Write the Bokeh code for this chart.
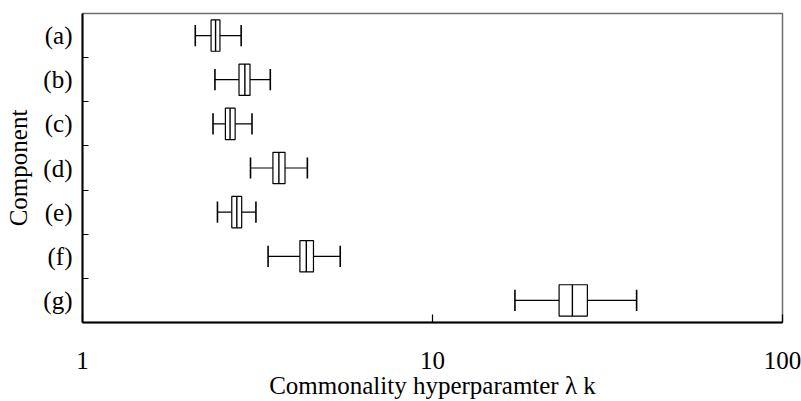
from bokeh.plotting import figure
from bokeh.models import Range1d, FixedTicker, ColumnDataSource
from bokeh.embed import file_html
from bokeh.resources import INLINE

# data
categories = ["(a)", "(b)", "(c)", "(d)", "(e)", "(f)", "(g)"]
lower = [2.10, 2.39, 2.36, 3.02, 2.43, 3.39, 17.2]
q1 = [2.33, 2.80, 2.56, 3.50, 2.67, 4.18, 23.0]
median = [2.40, 2.91, 2.64, 3.64, 2.76, 4.36, 25.1]
q3 = [2.47, 3.01, 2.73, 3.79, 2.85, 4.57, 27.7]
upper = [2.84, 3.44, 3.05, 4.39, 3.13, 5.45, 38.3]
x_ticks = [1, 10, 100]
x_tick_labels = ["1", "10", "100"]

FONT = "Liberation Serif"
FS = "25px"
BOX_H = 0.71
CAP_H = 0.48

n = len(categories)
pos = [i + 0.5 for i in range(n)]  # (a) at top with reversed y range

src = ColumnDataSource(dict(
    y=pos, lower=lower, q1=q1, med=median, q3=q3, upper=upper,
    box_lo=[p_ - BOX_H / 2 for p_ in pos], box_hi=[p_ + BOX_H / 2 for p_ in pos],
    cap_lo=[p_ - CAP_H / 2 for p_ in pos], cap_hi=[p_ + CAP_H / 2 for p_ in pos],
))

p = figure(width=801, height=401, output_backend="svg", toolbar_location=None,
           x_axis_type="log", x_range=Range1d(1, 100), y_range=Range1d(n, 0),
           min_border_left=82, min_border_right=19, min_border_top=13,
           min_border_bottom=79)
p.background_fill_color = "white"
p.border_fill_color = "white"
p.xgrid.visible = False
p.ygrid.visible = False
p.outline_line_color = "#6e6e6e"
p.outline_line_width = 1.5

# whiskers
p.segment(x0="lower", x1="q1", y0="y", y1="y", source=src, line_color="black", line_width=1.2)
p.segment(x0="q3", x1="upper", y0="y", y1="y", source=src, line_color="black", line_width=1.2)
p.segment(x0="lower", x1="lower", y0="cap_lo", y1="cap_hi", source=src, line_color="black", line_width=1.6)
p.segment(x0="upper", x1="upper", y0="cap_lo", y1="cap_hi", source=src, line_color="black", line_width=1.6)
# boxes
p.hbar(y="y", left="q1", right="q3", height=BOX_H, source=src,
       fill_color="white", line_color="black", line_width=1.2)
p.segment(x0="med", x1="med", y0="box_lo", y1="box_hi", source=src, line_color="black", line_width=1.4)

# x axis
xa = p.xaxis[0]
xa.ticker = FixedTicker(ticks=x_ticks, minor_ticks=[])
xa.major_label_overrides = {t: l for t, l in zip(x_ticks, x_tick_labels)}
xa.major_tick_in = 8
xa.major_tick_out = 0
xa.minor_tick_in = 0
xa.minor_tick_out = 0
xa.major_tick_line_width = 1.2
xa.axis_line_color = "black"
xa.axis_line_width = 2
xa.major_label_standoff = 29
xa.major_label_text_font = FONT
xa.major_label_text_font_size = FS
xa.major_label_text_color = "black"
xa.axis_label = "Commonality hyperparamter λ k"
xa.axis_label_text_font = FONT
xa.axis_label_text_font_size = FS
xa.axis_label_text_font_style = "normal"
xa.axis_label_text_color = "black"
xa.axis_label_standoff = 0

# y axis: labels at category centres, ticks at boundaries
ya = p.yaxis[0]
ya.ticker = FixedTicker(ticks=pos, minor_ticks=[i for i in range(1, n)])
ya.major_label_overrides = {p_: c for p_, c in zip(pos, categories)}
ya.major_tick_in = 0
ya.major_tick_out = 0
ya.minor_tick_in = 6
ya.minor_tick_out = 0
ya.minor_tick_line_color = "black"
ya.minor_tick_line_width = 1.2
ya.axis_line_color = "black"
ya.axis_line_width = 2
ya.major_label_standoff = 10
ya.major_label_text_font = FONT
ya.major_label_text_font_size = FS
ya.major_label_text_color = "black"
ya.axis_label = "Component"
ya.axis_label_text_font = FONT
ya.axis_label_text_font_size = FS
ya.axis_label_text_font_style = "normal"
ya.axis_label_text_color = "black"
ya.axis_label_standoff = 8

open("out.html", "w").write(file_html(p, INLINE))
